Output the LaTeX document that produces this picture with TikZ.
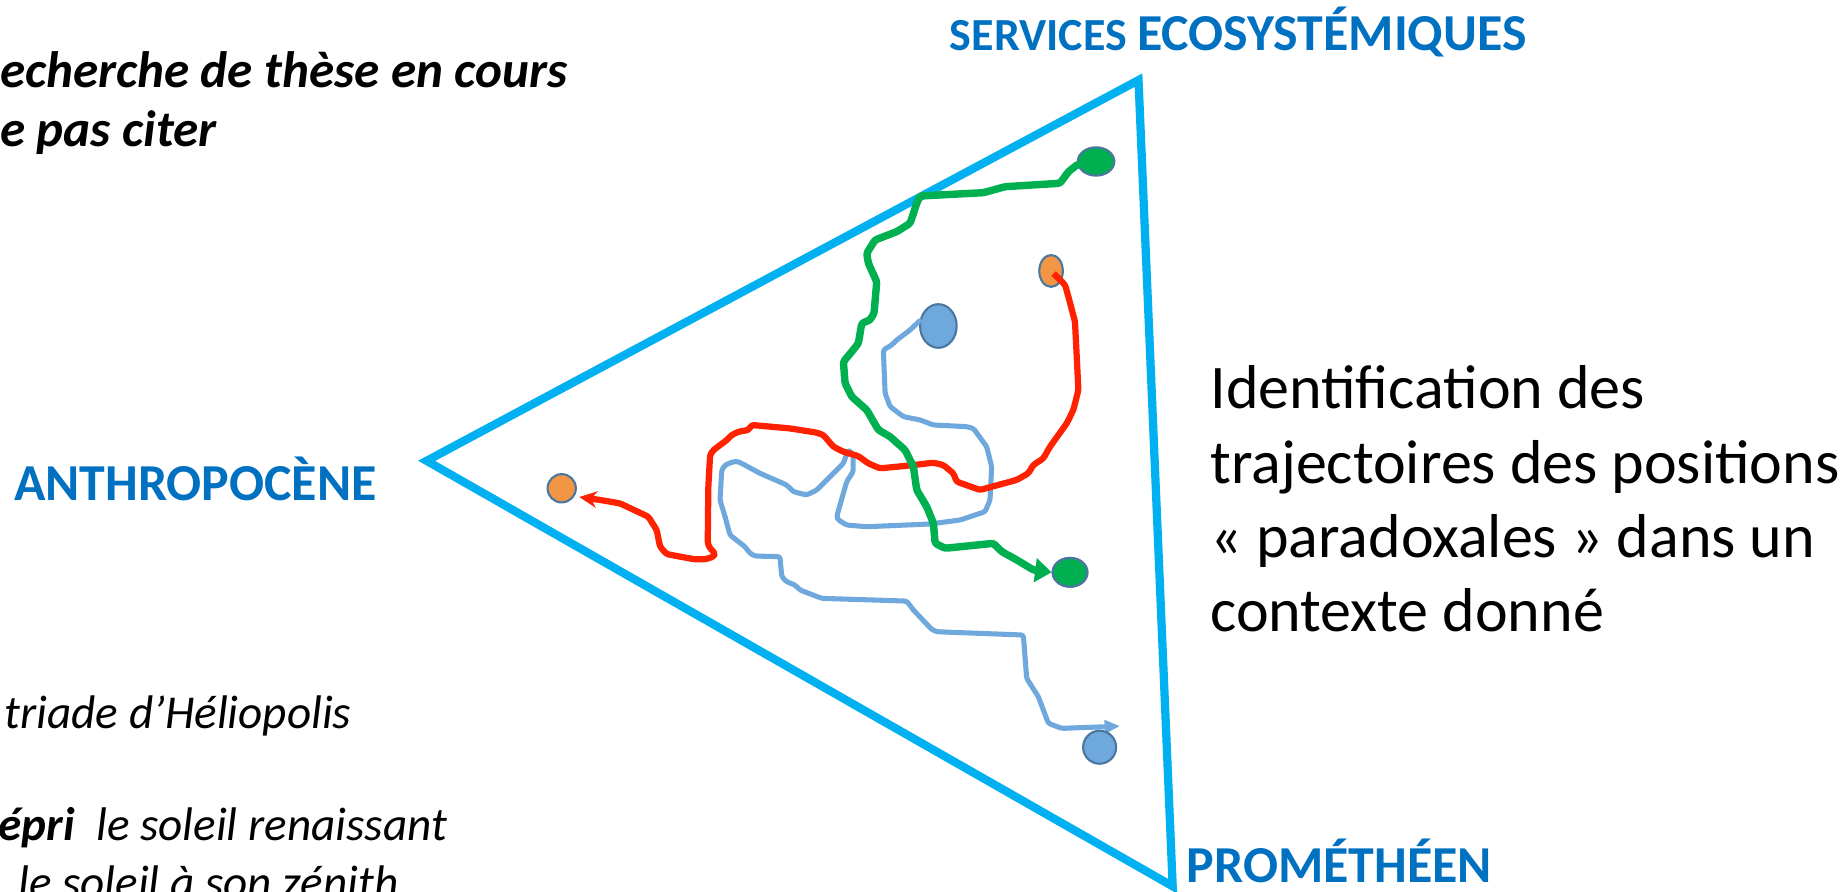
\documentclass[tikz,border=0pt]{standalone}
\usepackage{fontspec}
\setmainfont{Carlito}[Ligatures=Common]
\usetikzlibrary{shapes.geometric,arrows.meta}
\definecolor{tricol}{HTML}{00B0F0}
\definecolor{labcol}{HTML}{0070C0}
\definecolor{grncol}{HTML}{00B050}
\definecolor{redcol}{HTML}{FF2200}
\definecolor{lblcol}{HTML}{6FA8DC}
\definecolor{orgcol}{HTML}{F29544}
\definecolor{dotline}{HTML}{4A76A0}
\tikzset{
  dotnode/.style={shape=ellipse, draw=dotline, line width=1.8pt, inner sep=0pt},
  triline/.style={draw=tricol, line width=7pt, line join=miter},
  bluepath/.style={draw=lblcol, line width=4.3pt, line join=round, line cap=round, rounded corners=2pt},
  redpath/.style={draw=redcol, line width=5.3pt, line join=round, rounded corners=2pt},
  greenpath/.style={draw=grncol, line width=6.3pt, line join=round, line cap=round, rounded corners=2pt},
  txt/.style={anchor=base west, inner sep=0pt, outer sep=0pt},
  lab/.style={txt, text=labcol, font=\bfseries},
}
\begin{document}
\begin{tikzpicture}[x=1pt,y=-1pt]
\useasboundingbox (0,0) rectangle (1568,756.8);
\clip (0,0) rectangle (1568,756.8);
% triangle
\coordinate (tl) at (362,391);
\coordinate (tt) at (966,68);
\coordinate (tb) at (995,752);
\draw[triline] (tl) -- (tt) -- (tb) -- cycle;
% dots (first the one under the red line)
\node[dotnode, fill=orgcol, minimum width=20pt, minimum height=27pt] (o1) at (891.8,229.9) {};
\node[dotnode, fill=lblcol, minimum width=31pt, minimum height=37pt] (b1) at (796.2,276.6) {};
\coordinate (bend) at (950.3,616);
% blue trajectory
\draw[bluepath, -{Triangle[length=13pt,width=11pt]}] (b1.165) -- (772.2,280) -- (760.8,288.5) -- (756.6,292.7) -- (749.5,297) -- (751,333.7) -- (755.2,345) -- (766.5,353.5) -- (780.6,356.3) -- (791.9,360.6) -- (820.2,362) -- (825.9,363.5) -- (837.2,379) -- (841.4,396) -- (840,424.3) -- (835.8,434.2) -- (814.6,441.2) -- (789.1,444.6) -- (735.4,446.9) -- (718.4,445.5) -- (711.3,441.2) -- (709.9,438.4) -- (718.4,408.7) -- (723.9,400.2) -- (723.9,386) -- (719.8,381.5) -- (715.6,393.2) -- (709.9,398.8) -- (693,415.8) -- (684.5,420) -- (673.2,417.2) -- (667.5,411.5) -- (644.9,401.6) -- (626.5,391.7) -- (622.2,391.7) -- (615.2,394.6) -- (612.4,398.8) -- (610.9,424.3) -- (615.2,438.4) -- (619.4,454) -- (632.1,463.9) -- (636.4,469.5) -- (640.6,471.8) -- (661.8,472.3) -- (663.3,489.3) -- (667.5,493.6) -- (674.6,496.4) -- (678.8,500.6) -- (697.2,507.7) -- (769.3,510) -- (775,517.6) -- (790.5,534) -- (794.8,536) -- (868.3,538.8) -- (871.1,575.6) -- (881,591.1) -- (889.5,613.7) -- (900.8,618) -- (939,616.6) -- (bend);
% red trajectory
\node[dotnode, fill=orgcol, minimum width=24pt, minimum height=24pt] (o2) at (476.6,414.3) {};
\draw[redpath, shorten <=3pt, shorten >=4pt, -{Stealth[length=15pt,width=14pt,inset=5pt]}] (o1.center) -- (903.7,241.8) -- (906.5,251.7) -- (912.1,272.9) -- (915,330.9) -- (910.7,347.9) -- (905.1,359.2) -- (890.9,379) -- (885.3,388.9) -- (876.8,394.5) -- (872.5,401.6) -- (862.7,407.2) -- (831.5,415.7) -- (811.7,408.7) -- (808.9,401.6) -- (800.4,394.6) -- (791.9,392.6) -- (775,394.6) -- (746.7,397.4) -- (736.8,393.2) -- (728.3,387) -- (715.6,383.3) -- (707.1,379) -- (698.6,369.1) -- (693,367.1) -- (670.3,363.5) -- (637.8,360.6) -- (635,364.9) -- (626.5,366.3) -- (620.8,369.1) -- (616.6,373.4) -- (605.3,381.9) -- (602.5,386.1) -- (601,413) -- (600.5,461) -- (602.5,465.3) -- (606.7,469.5) -- (605.3,472.3) -- (598.2,474.6) -- (589.7,474.6) -- (577,472.3) -- (565.6,470.1) -- (560,463.8) -- (557.2,449.7) -- (550.1,438.4) -- (526,427.1) -- (509.1,424.2) -- (o2.-32);
% green trajectory
\node[dotnode, fill=grncol, minimum width=31pt, minimum height=24pt] (g1) at (930,137) {};
\node[dotnode, fill=grncol, minimum width=29.5pt, minimum height=24.4pt] (g2) at (907.9,485.6) {};
\draw[greenpath, -{Triangle[length=14pt,width=20pt]}] (g1.190) -- (906.5,145.7) -- (899.4,155.5) -- (852.8,158.4) -- (834.4,163.5) -- (780.6,166.3) -- (777.8,172.5) -- (772.2,189.5) -- (760.8,196.6) -- (742.5,203.6) -- (735.4,214.9) -- (736.8,223.4) -- (743.9,239) -- (741.6,265.8) -- (738.2,271.5) -- (731.2,274.3) -- (728.3,291.3) -- (722.7,298.4) -- (715.6,306.9) -- (717,325.2) -- (722.7,336.6) -- (735.4,347.8) -- (745.3,364.8) -- (755.2,370.5) -- (767.9,381.8) -- (775,395.9) -- (777.8,415.7) -- (786.3,429.9) -- (792,444) -- (793.4,461) -- (801.9,465.2) -- (842.9,461) -- (849.9,468) -- (862.7,475.1) -- (876.8,483.6) -- (g2.west);
% redraw dots over the paths
\node[dotnode, fill=grncol, minimum width=29.5pt, minimum height=24.4pt] (g2b) at (g2) {};
\node[dotnode, fill=lblcol, minimum width=28pt, minimum height=28pt] (b2) at (933,634) {};
% labels
\node[lab] (ls) at (806,43) {{\fontsize{39}{47}\selectfont SERVICES\ }{\fontsize{44}{53}\selectfont ECOSYSTÉMIQUES}};
\node[lab] (la) at (12,425) {\fontsize{44}{53}\selectfont ANTHROPOCÈNE};
\node[lab] (lp) at (1007,749) {\fontsize{44}{53}\selectfont PROMÉTHÉEN};
% right text
\node[txt] (r1) at (1027,347) {\fontsize{52.6}{63}\selectfont Identification des};
\node[txt] (r2) at (1027,410) {\fontsize{52.6}{63}\selectfont trajectoires des positions};
\node[txt] (r3) at (1027,473) {\fontsize{52.6}{63}\selectfont « paradoxales » dans un};
\node[txt] (r4) at (1027,536) {\fontsize{52.6}{63}\selectfont contexte donné};
% left texts
\node[txt] (t1) at (0,74) {\fontsize{43.4}{50}\selectfont\bfseries\itshape echerche de thèse en cours};
\node[txt] (t2) at (0,124) {\fontsize{43.4}{50}\selectfont\bfseries\itshape e pas citer};
\node[txt] (t3) at (4,618) {\fontsize{40}{48}\selectfont\itshape triade d'Héliopolis};
\node[txt] (t4) at (-1,713) {\fontsize{40}{48}\selectfont\itshape\textbf{épri}\ \ le soleil renaissant};
\node[txt] (t5) at (15.5,762) {\fontsize{40}{48}\selectfont\itshape le soleil à son zénith};
\end{tikzpicture}
\end{document}
